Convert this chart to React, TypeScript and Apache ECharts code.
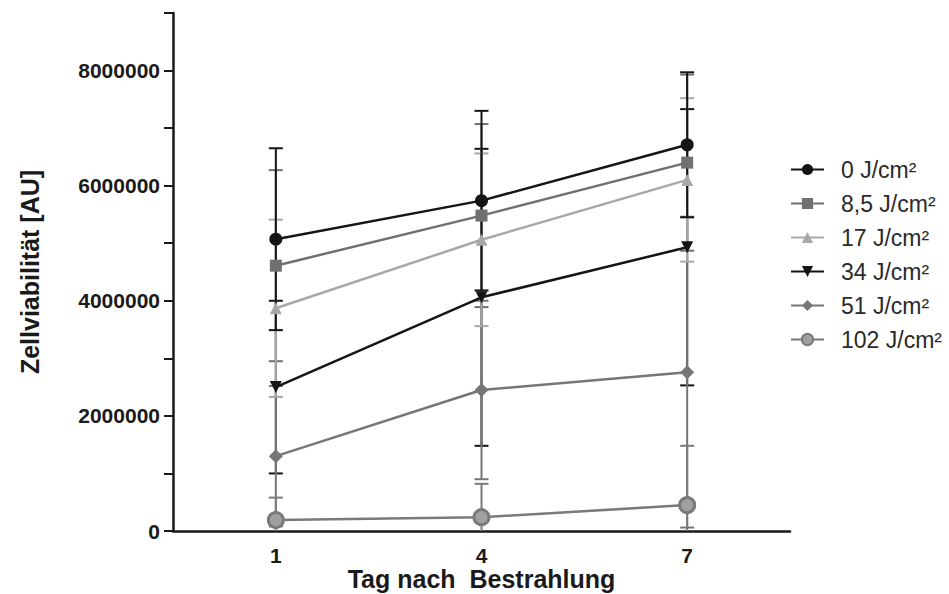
import React, { useEffect, useRef } from "react";
import * as echarts from "echarts";

const days = [1, 4, 7];
const seriesNames = ["0 J/cm²", "8,5 J/cm²", "17 J/cm²", "34 J/cm²", "51 J/cm²", "102 J/cm²"];

const mean0 = [5070000, 5740000, 6710000];
const sd0 = [1580000, 1560000, 1260000];
const mean85 = [4610000, 5480000, 6400000];
const sd85 = [1660000, 1590000, 1530000];
const mean17 = [3870000, 5060000, 6100000];
const sd17 = [1540000, 1500000, 1420000];
const mean34 = [2500000, 4060000, 4930000];
const sd34 = [1500000, 2580000, 2400000];
const mean51 = [1300000, 2450000, 2760000];
const sd51 = [1220000, 1550000, 2700000];
const mean102 = [190000, 240000, 450000];
const sd102 = [390000, 580000, 1030000];

const yLabelValues = [0, 2000000, 4000000, 6000000, 8000000];
const yTickValues = [0, 1000000, 2000000, 3000000, 4000000, 5000000, 6000000, 7000000, 8000000, 9000000];

const means = [mean0, mean85, mean17, mean34, mean51, mean102];
const sds = [sd0, sd85, sd17, sd34, sd51, sd102];
const colors = ["#151515", "#707070", "#a8a8a8", "#151515", "#767676", "#7a7a7a"];
const errZ = [4, 3, 3, 1, 2, 2];
const symbols = [
  "circle",
  "rect",
  "triangle",
  "path://M0,0 L10,0 L5,9 Z",
  "diamond",
  "circle",
];
const symbolSizes = [13, 12, 12, 12, 14, 15];
const FONT = "Liberation Sans, Arial, sans-serif";

export default function App() {
  const ref = useRef<HTMLDivElement>(null);
  useEffect(() => {
    if (!ref.current) return;
    const chart = echarts.init(ref.current, null, { renderer: "svg" });
    const errSeries = means.map((m, si) => ({
      type: "custom",
      name: "err" + si,
      z: errZ[si],
      silent: true,
      data: days.map((d, i) => [d, m[i] - sds[si][i], m[i] + sds[si][i]]),
      renderItem: (params: any, api: any) => {
        const x = api.value(0);
        const lo = api.value(1);
        const hi = api.value(2);
        const pHi = api.coord([x, hi]);
        const pLo = api.coord([x, Math.max(lo, 0)]);
        const w = 7;
        const st = { stroke: colors[si], lineWidth: 2 };
        const children: any[] = [
          { type: "line", shape: { x1: pHi[0], y1: pHi[1], x2: pLo[0], y2: pLo[1] }, style: st },
          { type: "line", shape: { x1: pHi[0] - w, y1: pHi[1], x2: pHi[0] + w, y2: pHi[1] }, style: st },
        ];
        if (lo > 0) {
          children.push({ type: "line", shape: { x1: pLo[0] - w, y1: pLo[1], x2: pLo[0] + w, y2: pLo[1] }, style: st });
        }
        return { type: "group", children };
      },
    }));
    const lineSeries = means.map((m, si) => ({
      type: "line",
      name: seriesNames[si],
      z: 6,
      data: days.map((d, i) => [d, m[i]]),
      symbol: symbols[si],
      symbolSize: symbolSizes[si],
      lineStyle: { color: colors[si], width: 2.5 },
      itemStyle:
        si === 5
          ? { color: "#a0a0a0", borderColor: "#7a7a7a", borderWidth: 3 }
          : { color: colors[si] },
    }));
    chart.setOption({
      animation: false,
      backgroundColor: "#fff",
      textStyle: { fontFamily: FONT },
      grid: { left: 173, right: 159, top: 13, bottom: 63, outerBoundsMode: "none" },
      legend: {
        orient: "vertical",
        left: 785,
        top: 153,
        itemGap: 11,
        itemWidth: 33,
        itemHeight: 14,
        data: seriesNames,
        textStyle: { fontFamily: FONT, fontSize: 23, lineHeight: 22, color: "#2a2a2a", padding: [0, 0, 0, 12] },
      },
      xAxis: {
        type: "value",
        min: -0.5,
        max: 8.5,
        name: "Tag nach  Bestrahlung",
        nameLocation: "middle",
        nameGap: 48,
        nameMoveOverlap: false,
        nameTextStyle: {
          fontFamily: FONT,
          fontSize: 25,
          lineHeight: 26,
          fontWeight: "bold",
          color: "#1a1a1a",
          verticalAlign: "middle",
        },
        axisLine: { onZero: false, lineStyle: { color: "#1a1a1a", width: 2.5 } },
        axisTick: { show: false },
        splitLine: { show: false },
        axisLabel: {
          customValues: days,
          margin: 14,
          fontFamily: FONT,
          fontSize: 21,
          fontWeight: "bold",
          color: "#1a1a1a",
        },
      },
      yAxis: {
        type: "value",
        min: 0,
        max: 9000000,
        name: "Zellviabilität [AU]",
        nameLocation: "middle",
        nameGap: 143,
        nameMoveOverlap: false,
        nameTextStyle: {
          fontFamily: FONT,
          fontSize: 25,
          fontWeight: "bold",
          color: "#1a1a1a",
          verticalAlign: "middle",
        },
        axisLine: { show: true, onZero: false, lineStyle: { color: "#1a1a1a", width: 2.5 } },
        axisTick: { show: true, customValues: yTickValues, length: 9, lineStyle: { color: "#1a1a1a", width: 2 } },
        splitLine: { show: false },
        axisLabel: {
          customValues: yLabelValues,
          margin: 13,
          formatter: (v: number) => String(v),
          fontFamily: FONT,
          fontSize: 21,
          fontWeight: "bold",
          color: "#1a1a1a",
        },
      },
      series: [...errSeries, ...lineSeries],
    });
    return () => chart.dispose();
  }, []);
  return (
    <div
      ref={ref}
      style={{ position: "fixed", left: 0, top: 0, width: 949, height: 594 }}
    />
  );
}
